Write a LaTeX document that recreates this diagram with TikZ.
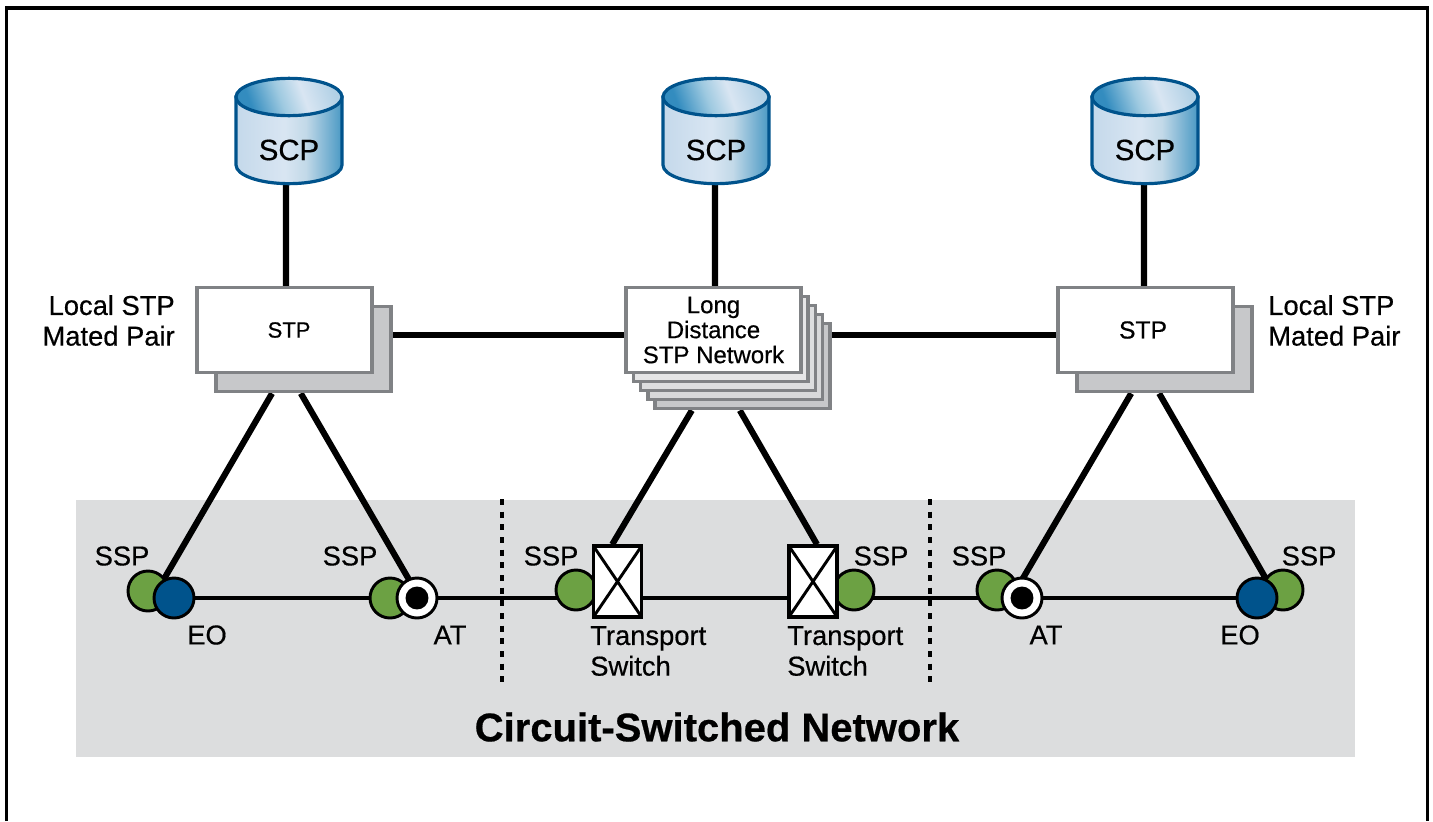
\documentclass[tikz,border=0pt]{standalone}
\usepackage{fontspec}
\setmainfont{Liberation Sans}[RawFeature={embolden=0.5}]
\usetikzlibrary{positioning, backgrounds}
\definecolor{panelgray}{HTML}{DCDDDE}
\definecolor{edgegray}{HTML}{808285}
\definecolor{shadegray}{HTML}{C7C8CA}
\definecolor{sspgreen}{HTML}{6CA143}
\definecolor{eoblue}{HTML}{00538C}
\pgfdeclarehorizontalshading{dbbody}{100bp}{rgb(0bp)=(.77,.85,.92); rgb(25bp)=(.77,.85,.92); rgb(48bp)=(.85,.90,.95); rgb(58bp)=(.76,.85,.91); rgb(75bp)=(.29,.60,.77); rgb(100bp)=(.29,.60,.77)}
\pgfdeclarehorizontalshading{dbtop}{100bp}{rgb(0bp)=(.20,.55,.75); rgb(28bp)=(.20,.55,.75); rgb(45bp)=(.62,.79,.88); rgb(58bp)=(.85,.90,.95); rgb(75bp)=(.70,.82,.90); rgb(100bp)=(.70,.82,.90)}
\tikzset{
  stpbox/.style={draw=edgegray, line width=2.6pt, fill=white, minimum width=131pt, minimum height=64pt, inner sep=0pt, align=center, font=\fontsize{18}{18.75}\selectfont},
  stpback/.style={stpbox, fill=#1},
  ssp/.style={circle, draw=black, line width=2.2pt, fill=sspgreen, minimum size=30pt, inner sep=0pt},
  eo/.style={ssp, fill=eoblue},
  atnode/.style={ssp, fill=white, path picture={\fill[black] (path picture bounding box.center) circle (8.6pt);}},
  tswitch/.style={draw=black, line width=2.6pt, fill=white, minimum width=36pt, minimum height=53pt, inner sep=0pt,
    path picture={\draw[line width=2.2pt] (path picture bounding box.north west) -- (path picture bounding box.south east)
      (path picture bounding box.north east) -- (path picture bounding box.south west);}},
  lbl/.style={font=\fontsize{20.5}{23}\selectfont, inner sep=0pt, align=left},
  link/.style={line width=4.6pt, black},
  trunk/.style={line width=2.5pt, black},
  divider/.style={line width=2.5pt, dash pattern=on 4.5pt off 5pt}
}
\begin{document}
\begin{tikzpicture}[x=0.75pt,y=-0.75pt]
\useasboundingbox (0,0) rectangle (1433,821);
% outer frame, open at the foot
\draw[line width=2.6pt] (6.5,821) -- (6.5,8) -- (1427.5,8) -- (1427.5,821);

% SCP databases
\foreach \name/\xc in {scpa/289, scpb/716, scpc/1145} {
  \path[shade, shading=dbbody, draw=eoblue, line width=2.4pt]
    (\xc-53,97) -- (\xc-53,165) arc[start angle=180, end angle=360, x radius=39.75pt, y radius=14pt]
    -- (\xc+53,97) -- cycle;
  \path[shade, shading=dbtop, shading angle=20, draw=eoblue, line width=2.4pt]
    (\xc,97) ellipse[x radius=39.75pt, y radius=14pt];
  \node[inner sep=0pt, minimum width=79pt, minimum height=51pt, font=\fontsize{22}{25}\selectfont] (\name) at (\xc,150) {SCP};
}

% STP boxes
\node[stpback=shadegray] (stpaback) at (303.5,349) {};
\node[stpbox, font=\fontsize{16.5}{20}\selectfont] (stpa) at (284.5,330) {\hspace*{6.8pt}STP};
\node[stpback=shadegray] (stpcback) at (1164.5,349) {};
\node[stpbox, font=\fontsize{18.5}{20}\selectfont] (stpc) at (1145.5,330) {STP\hspace*{3.75pt}};
\node[stpback=shadegray] (stpb4) at (742.5,366) {};
\node[stpback=shadegray!70!white] (stpb3) at (735.25,357) {};
\node[stpback=shadegray!60!white] (stpb2) at (728,348) {};
\node[stpback=shadegray!45!white] (stpb1) at (720.75,339) {};
\node[stpbox] (stpb) at (713.5,330) {Long\\Distance\\STP Network};

% SSP pairs
\node[ssp] (sspa) at (148,591) {};
\node[eo] (eoa) at (174,598) {};
\node[ssp] (sspb) at (390,598) {};
\node[atnode] (ata) at (417,598) {};
\node[ssp] (sspc) at (576,590) {};
\node[tswitch] (tsa) at (617.5,581.5) {};
\node[ssp] (sspd) at (854,590) {};
\node[tswitch] (tsb) at (813,581.5) {};
\node[ssp] (sspe) at (997,590) {};
\node[atnode] (atb) at (1022,598) {};
\node[ssp] (sspf) at (1283,590) {};
\node[eo] (eob) at (1257,598) {};

% labels
\node[lbl, align=right, anchor=east] (lsa) at (175,320.5) {Local STP\\Mated Pair};
\node[lbl, anchor=west] (lsc) at (1268,320.5) {Local STP\\Mated Pair};
\node[lbl] (lba) at (122,556) {SSP};
\node[lbl] (lbb) at (350,556) {SSP};
\node[lbl] (lbc) at (551,556) {SSP};
\node[lbl] (lbd) at (881,556) {SSP};
\node[lbl] (lbe) at (979,556) {SSP};
\node[lbl] (lbf) at (1309,556) {SSP};
\node[lbl] (lbg) at (207,635) {EO};
\node[lbl] (lbh) at (450,635) {AT};
\node[lbl] (lbi) at (1046,635) {AT};
\node[lbl] (lbj) at (1240,635) {EO};
\node[lbl, anchor=west] (lbk) at (590,651) {Transport\\Switch};
\node[lbl, anchor=west] (lbm) at (787,651) {Transport\\Switch};
\node[font=\fontsize{30}{34}\selectfont\bfseries, inner sep=0pt] (title) at (717,727) {Circuit-Switched Network};

\begin{scope}[on background layer]
\fill[panelgray] (76,500) rectangle (1355,757);
\draw[divider] (502,499) -- (502,684);
\draw[divider] (930,499) -- (930,684);
% signalling links
\draw[link] ([xshift=-2.25pt]scpa.south) -- ([xshift=1.1pt]stpa.center);
\draw[link] ([xshift=-0.75pt]scpb.south) -- ([xshift=1.1pt]stpb.center);
\draw[link] ([xshift=-0.75pt]scpc.south) -- ([xshift=-1.1pt]stpc.center);
\draw[link] ([yshift=-3.75pt]stpa.center) -- ([yshift=-3.75pt]stpb.center);
\draw[link] ([yshift=-3.75pt]stpb.center) -- ([yshift=-3.75pt]stpc.center);
\draw[link] ([xshift=-23.6pt]stpaback.south) -- ([xshift=6.75pt]sspa.center);
\draw[link] ([xshift=-2pt]stpaback.south) -- ([xshift=2pt]ata.center);
\draw[link] ([xshift=-38pt]stpb4.south) -- ([xshift=-4pt]tsa.north);
\draw[link] ([xshift=-2pt]stpb4.south) -- ([xshift=3pt]tsb.north);
\draw[link] ([xshift=-25pt]stpcback.south) -- ([xshift=-8pt]atb.center);
\draw[link] ([xshift=-4pt]stpcback.south) -- ([xshift=15pt]eob.center);
% circuit trunk
\draw[trunk] (eoa) -- (ata) -- (ata -| tsa) -- (ata -| tsb) -- (atb) -- (eob);
\end{scope}
\end{tikzpicture}
\end{document}
